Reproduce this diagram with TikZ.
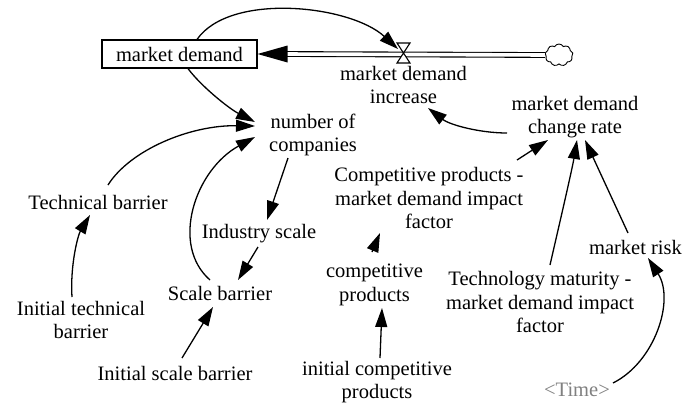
\documentclass[tikz,border=0pt]{standalone}
\usepackage{fontspec}
\setmainfont{Liberation Serif}
\usetikzlibrary{arrows.meta,calc,shapes.symbols}
\definecolor{timegray}{RGB}{128,128,128}
\tikzset{
  lbl/.style={inner sep=0pt, align=center, font=\fontsize{20.5}{23.5}\selectfont},
  link/.style={line width=1.3pt, -{Triangle[length=19pt,width=12pt]}},
  stockbox/.style={draw, line width=1.1pt, minimum width=155pt, minimum height=28pt, inner sep=0pt, font=\fontsize{20.5}{23.5}\selectfont},
  pipe/.style={double, double distance=3.6pt, line width=1.1pt},
  valveshape/.style={fill=white, draw, line width=1.1pt},
}
\begin{document}
\begin{tikzpicture}[x=1pt,y=-1pt]
\useasboundingbox (0,0) rectangle (696,405);

% nodes
\node[stockbox] (md) at (179.5,54) {market demand};
\coordinate (v) at (403.5,53);
\node[cloud, draw, line width=0.9pt, cloud puffs=9, cloud puff arc=120, aspect=1.3,
      minimum width=28pt, minimum height=22pt, inner sep=0pt] (cl) at (559,55) {};
\node[lbl] (mdi) at (403.5,85) {market demand\\increase};
\node[lbl] (mdcr) at (575,117) {market demand\\change rate};
\node[lbl] (nc) at (313,135) {number of\\companies};
\node[lbl] (cpf) at (429,198) {Competitive products -\\market demand impact\\factor};
\node[lbl] (tb) at (98,202) {Technical barrier};
\node[lbl] (is) at (259,234) {Industry scale};
\node[lbl] (sb) at (220,293) {Scale barrier};
\node[lbl] (cp) at (374.5,285) {competitive\\products};
\node[lbl] (mr) at (635.5,247) {market risk};
\node[lbl] (tm) at (540,302) {Technology maturity -\\market demand impact\\factor};
\node[lbl] (itb) at (81,320) {Initial technical\\barrier};
\node[lbl] (isb) at (175,373) {Initial scale barrier};
\node[lbl] (icp) at (377,382) {initial competitive\\products};
\node[lbl, text=timegray] (time) at (577,390) {<Time>};

% flow pipe
\draw[pipe] (cl.west) -- ($(md.east)+(28,0)$);
\fill (md.east) -- ++(30,-8.5) -- ++(0,17) -- cycle;
% valve
\filldraw[valveshape] ($(v)+(-6.5,-10)$) -- ($(v)+(6.5,-10)$) -- (v) -- cycle;
\filldraw[valveshape] ($(v)+(-6.5,10)$) -- ($(v)+(6.5,10)$) -- (v) -- cycle;

% links
\draw[link] ($(md.north)+(17.5,0)$) .. controls (230,-8) and (350,5) .. ($(v)+(-5.5,-4)$);
\draw[link] ($(md.south)+(8.5,0)$) .. controls (200,85) and (228,108) .. ($(nc)+(-58,-13)$);
\draw[link] ($(mdcr)+(-68,16)$) .. controls (480,133) and (450,125) .. ($(mdi)+(24.5,23)$);
\draw[link] ($(cpf)+(88,-38)$) -- ($(mdcr)+(-27,23)$);
\draw[link] ($(tm)+(10,-37)$) .. controls (558,230) and (572,170) .. ($(mdcr)+(2,23)$);
\draw[link] ($(mr)+(-7.5,-14)$) -- ($(mdcr)+(10,23)$);
\draw[link] ($(time)+(36,-7)$) .. controls (655,362) and (675,300) .. ($(mr)+(12.5,11)$);
\draw[link] ($(cp)+(-2.5,-33)$) -- ($(cpf)+(-49,35)$);
\draw[link] ($(icp)+(3,-24)$) -- ($(cp)+(7.5,23)$);
\draw[link] ($(nc)+(-25,23)$) -- ($(is)+(8,-14)$);
\draw[link] ($(is)+(-1,13)$) -- ($(sb)+(18,-13)$);
\draw[link] ($(sb)+(-10,-13)$) .. controls (170,245) and (195,170) .. ($(nc)+(-58,2)$);
\draw[link] ($(tb)+(10,-17)$) .. controls (130,150) and (190,125) .. ($(nc)+(-58,-9)$);
\draw[link] ($(itb)+(-9,-23)$) .. controls (70,265) and (78,235) .. ($(tb)+(-8,13)$);
\draw[link] ($(isb)+(7,-15)$) -- ($(sb)+(-7,14)$);
\end{tikzpicture}
\end{document}
